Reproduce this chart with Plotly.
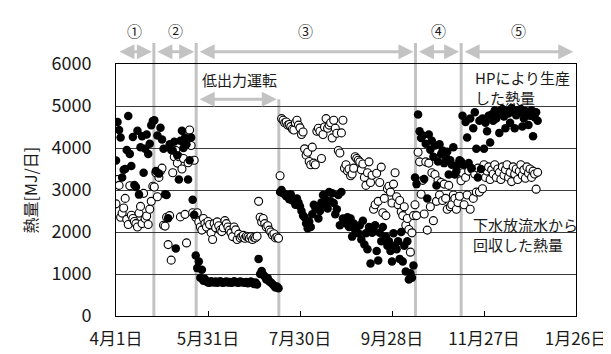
import plotly.graph_objects as go

# ---------------- data (day offsets from 4月1日) ----------------
TICK_DAYS = [0, 60, 120, 180, 240, 300]
TICK_TEXT = ["4月1日", "5月31日", "7月30日", "9月28日", "11月27日", "1月26日"]
Y_TICKS = [0, 1000, 2000, 3000, 4000, 5000, 6000]

PHASE_EDGES = [0, 24.7, 52.3, 195.3, 225.1, 299.5]   # phase ①..⑤ spans (days)
PHASE_LABELS = ["①", "②", "③", "④", "⑤"]
LOW_OUTPUT = [52.3, 106.2]                           # 低出力運転 span (days)

PHASE_START = [0, 25, 52, 107, 195, 225]

# HPにより生産した熱量 (filled)
hp_p1 = [3700, 4620, 4430, 4250, 3300, 3480, 3500, 3950, 4760, 3860, 3570, 4260, 3120,
         3070, 4410, 2890, 4020, 4280, 3410, 3980, 4320, 3860, 4100, 4540, 4640]
hp_p2 = [4660, 3450, 4300, 3390, 4480, 4200, 3980, 2900, 2880, 2330, 4090, 3950, 3940,
         4150, 1610, 3830, 3250, 4170, 4410, 4000, 4250, 4090, 3250, 3710, 4250, 2770, 2410]
hp_p3a = [1440, 1140, 1300, 910, 1100, 840, 880, 820, 800, 790, 830, 810, 800, 820, 790,
          810, 830, 800, 790, 810, 820, 800, 810, 790, 800, 830, 810, 800, 790, 820, 810,
          800, 790, 810, 780, 800, 820, 790, 760, 800, 750, 1360, 1000, 1070, 985, 940,
          870, 900, 820, 795, 760, 720, 680, 700, 660]
hp_p3b = [2950, 3000, 2920, 2900, 2850, 2880, 2780, 2900, 2750, 2770, 2650, 2800, 2700,
          2610, 2500, 2390, 2350, 2200, 2090, 2250, 2120, 2420, 2650, 2580, 2610, 2320,
          2500, 2700, 2880, 2650, 2770, 2560, 2950, 2730, 2920, 2690, 2420, 2540, 2880,
          2160, 2950, 2320, 2270, 2200, 2350, 2120, 2320, 1890, 2200, 2050, 2120, 1970,
          2160, 1820, 2270, 1700, 1970, 1590, 2120, 1250, 1980, 2010, 2160, 1550, 1320,
          1980, 1780, 2120, 1820, 1890, 1670, 1780, 1550, 1300, 1970, 1670, 1590, 1780,
          1360, 2000, 1300, 1670, 1060, 1780, 870, 1020, 910, 1200]
hp_p4 = [3300, 3140, 4800, 4400, 4240, 4300, 3260, 4100, 2800, 4320, 3960, 4170, 3790,
         4060, 3110, 3680, 4090, 3850, 3940, 3640, 3800, 3910, 3370, 3710, 3600, 4020,
         3370, 3450, 3600, 3710]
hp_p5 = [3680, 4770, 3600, 4620, 4250, 3640, 4700, 3520, 4470, 4850, 3980, 3300, 4650,
         3500, 4700, 3980, 4600, 4400, 4770, 4130, 4800, 4650, 4890, 4700, 4820, 4360,
         4900, 4930, 4750, 4470, 4880, 4820, 4600, 4950, 4890, 4470, 4780, 4900, 4850,
         4930, 4510, 4700, 4880, 4800, 4550, 4770, 4900, 4280, 4730, 4850, 4650]

# 下水放流水から回収した熱量 (open)
rec_p1 = [2670, 3250, 3110, 2350, 2450, 2570, 2800, 2300, 2180, 3100, 2400, 2320, 2250,
          2200, 2120, 2450, 2610, 2200, 2920, 2320, 2380, 2180, 2540, 2730, 3090]
rec_p2 = [3070, 3410, 2840, 3300, 3450, 3520, 2160, 2140, 2350, 1700, 2390, 1330, 3410,
          3790, 3940, 3640, 3790, 2360, 3500, 3750, 2420, 1740, 3650, 4430, 4060, 2460, 3710]
rec_p3a = [2350, 2460, 2240, 2120, 2045, 2320, 2200, 2120, 2250, 2180, 1980, 1820, 2200,
           2100, 2240, 2150, 2045, 2010, 2100, 2270, 2200, 2120, 2045, 1980, 1890, 2120,
           2050, 1820, 1950, 1860, 1890, 1920, 1850, 1900, 1880, 1850, 1890, 1820, 1870,
           1860, 1900, 2730, 2350, 2240, 2320, 2200, 2120, 2150, 2045, 2000, 1930, 1960,
           1860, 1880, 1850]
rec_p3b = [3340, 4700, 4660, 4600, 4620, 4545, 4560, 4510, 4450, 4430, 4600, 4660, 4545,
           4480, 4320, 4380, 3980, 3830, 3900, 3680, 3600, 4020, 3640, 3600, 4400, 4470,
           4400, 3750, 4320, 4500, 4700, 4470, 4545, 4600, 4240, 4660, 4470, 4350, 3940,
           3880, 4360, 4660, 3520, 3600, 3450, 3500, 3340, 3380, 3520, 3790, 3750, 3710,
           3670, 3480, 3620, 3300, 3110, 3410, 3670, 3180, 3350, 2540, 2650, 3400, 2730,
           3180, 3545, 2460, 2800, 2390, 3030, 3090, 2950, 2690, 3140, 3410, 2840, 2650,
           2750, 2480, 2390, 2600, 2160, 2320, 2060, 1520, 1980, 2390]
rec_p4 = [2650, 2390, 3900, 3670, 2900, 3230, 2430, 3670, 2045, 3640, 2600, 3410, 2270,
          3370, 2730, 3220, 2880, 3180, 2750, 3140, 2800, 2540, 3110, 2600, 2650, 2880,
          2800, 2540, 2700, 2850]
rec_p5 = [3220, 3410, 2650, 3300, 2880, 3450, 2540, 3500, 2800, 3380, 2950, 3520, 2950,
          3400, 3030, 3600, 3300, 3450, 3550, 3250, 3480, 3380, 3600, 3300, 3500, 3420,
          3250, 3550, 3350, 3480, 3600, 3300, 3420, 3200, 3550, 3380, 3500, 3250, 3450,
          3600, 3350, 3480, 3280, 3550, 3400, 3500, 3300, 3450, 3380, 3020, 3420]

HP_PHASES = [hp_p1, hp_p2, hp_p3a, hp_p3b, hp_p4, hp_p5]
REC_PHASES = [rec_p1, rec_p2, rec_p3a, rec_p3b, rec_p4, rec_p5]


def flatten(phases):
    xs, ys = [], []
    for start, vals in zip(PHASE_START, phases):
        for i, v in enumerate(vals):
            xs.append(start + i)
            ys.append(v)
    return xs, ys


hp_x, hp_y = flatten(HP_PHASES)
rec_x, rec_y = flatten(REC_PHASES)

FONT = "Noto Sans CJK JP"
GRAY = "#c3c3c3"
TXT = "#1a1a1a"

fig = go.Figure()
fig.add_trace(go.Scatter(x=rec_x, y=rec_y, mode="markers", showlegend=False,
                         marker=dict(size=8, color="white",
                                     line=dict(color="black", width=1.1))))
fig.add_trace(go.Scatter(x=hp_x, y=hp_y, mode="markers", showlegend=False,
                         marker=dict(size=8.5, color="black", line=dict(width=0))))

shapes = []
for d in PHASE_EDGES[1:-1]:
    shapes.append(dict(type="line", xref="x", yref="paper", x0=d, x1=d, y0=0, y1=1.083,
                       line=dict(color=GRAY, width=3), layer="below"))
shapes.append(dict(type="line", xref="x", yref="paper", x0=LOW_OUTPUT[1], x1=LOW_OUTPUT[1],
                   y0=0, y1=5160 / 6000, line=dict(color=GRAY, width=3), layer="below"))

annotations = []
for i, lab in enumerate(PHASE_LABELS):
    a, b = PHASE_EDGES[i], PHASE_EDGES[i + 1]
    annotations.append(dict(x=b, y=1.049, xref="x", yref="paper", ax=a, ay=0,
                            axref="x", ayref="pixel", text="", showarrow=True,
                            arrowside="end+start", arrowhead=2, arrowsize=1,
                            arrowwidth=3, arrowcolor=GRAY, standoff=2, startstandoff=2))
    annotations.append(dict(x=(a + b) / 2, y=1.133, xref="x", yref="paper", text=lab,
                            xanchor="center", yanchor="middle", showarrow=False,
                            font=dict(family=FONT, size=15, color=TXT)))

annotations.append(dict(x=LOW_OUTPUT[1], y=5160, xref="x", yref="y", ax=LOW_OUTPUT[0],
                        ay=0, axref="x", ayref="pixel", text="", showarrow=True,
                        arrowside="end+start", arrowhead=2, arrowsize=1, arrowwidth=3,
                        arrowcolor=GRAY, standoff=2, startstandoff=2))
annotations.append(dict(x=LOW_OUTPUT[0] + 2.5, y=5620, xref="x", yref="y", text="低出力運転",
                        xanchor="left", yanchor="middle", showarrow=False,
                        font=dict(family=FONT, size=15, color=TXT)))
annotations.append(dict(x=232.5, y=5440, xref="x", yref="y", text="HPにより生産<br>した熱量",
                        xanchor="left", yanchor="middle", align="left", showarrow=False,
                        font=dict(family=FONT, size=15, color=TXT)))
annotations.append(dict(x=231.5, y=1930, xref="x", yref="y", text="下水放流水から<br>回収した熱量",
                        xanchor="left", yanchor="middle", align="left", showarrow=False,
                        font=dict(family=FONT, size=15, color=TXT)))
annotations.append(dict(x=-0.188, y=0.5, xref="paper", yref="paper", text="熱量[MJ/日]",
                        textangle=-90, xanchor="center", yanchor="middle", showarrow=False,
                        font=dict(family=FONT, size=16, color=TXT)))

fig.update_layout(
    width=611, height=354,
    margin=dict(l=108, r=34, t=56, b=34),
    paper_bgcolor="white", plot_bgcolor="white",
    font=dict(family=FONT, size=16, color=TXT),
    shapes=shapes, annotations=annotations,
    xaxis=dict(range=[0, 300], tickmode="array", tickvals=TICK_DAYS, ticktext=TICK_TEXT,
               ticks="inside", ticklen=5, tickcolor="black", showgrid=False,
               zeroline=False, showline=True, linecolor="black", linewidth=1, mirror=True,
               tickfont=dict(family=FONT, size=17, color=TXT), ticklabelstandoff=8),
    yaxis=dict(range=[0, 6000], tickmode="array", tickvals=Y_TICKS, showgrid=True,
               gridcolor="#3a3a3a", gridwidth=1, zeroline=False, showline=True,
               linecolor="black", linewidth=1, mirror=True, ticks="",
               tickfont=dict(family=FONT, size=18, color=TXT), ticklabelstandoff=20),
)

fig.write_html("out.html")
